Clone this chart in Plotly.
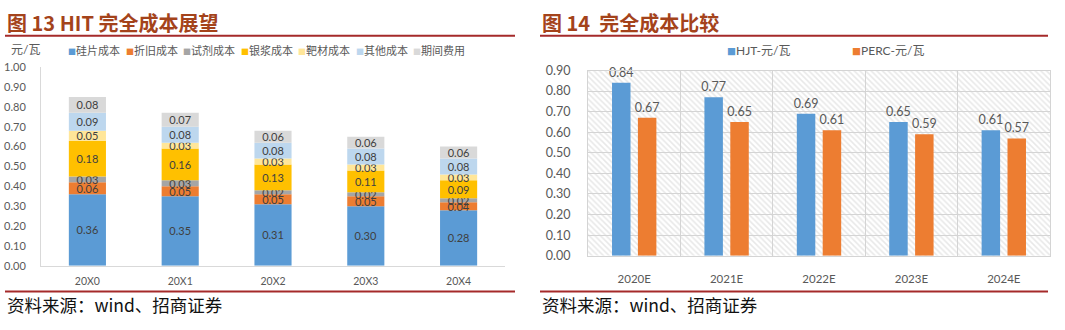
import numpy as np
import plotly.graph_objects as go

W, H = 1065, 330

# ---- Figure 13: HIT full cost outlook (stacked) ----
years_hit = ["20X0", "20X1", "20X2", "20X3", "20X4"]
cost_names = ["硅片成本", "折旧成本", "试剂成本", "银浆成本", "靶材成本", "其他成本", "期间费用"]
cost_colors = ["#5B9BD5", "#ED7D31", "#A5A5A5", "#FFC000", "#FFE699", "#BDD7EE", "#D9D9D9"]
wafer = [0.36, 0.35, 0.31, 0.30, 0.28]
depreciation = [0.06, 0.05, 0.05, 0.05, 0.04]
chemicals = [0.03, 0.03, 0.02, 0.02, 0.02]
silver_paste = [0.18, 0.16, 0.13, 0.11, 0.09]
target = [0.05, 0.03, 0.03, 0.03, 0.03]
other = [0.09, 0.08, 0.08, 0.08, 0.08]
period_expense = [0.08, 0.07, 0.06, 0.06, 0.06]
hit_ticks = [0.0, 0.1, 0.2, 0.3, 0.4, 0.5, 0.6, 0.7, 0.8, 0.9, 1.0]

# ---- Figure 14: full cost comparison ----
years_cmp = ["2020E", "2021E", "2022E", "2023E", "2024E"]
hjt = [0.84, 0.77, 0.69, 0.65, 0.61]
perc = [0.67, 0.65, 0.61, 0.59, 0.57]
cmp_names = ["HJT-元/瓦", "PERC-元/瓦"]
cmp_colors = ["#5B9BD5", "#ED7D31"]
cmp_ticks = [0.0, 0.1, 0.2, 0.3, 0.4, 0.5, 0.6, 0.7, 0.8, 0.9]

LATIN = "Lato, 'Noto Sans CJK SC', sans-serif"
CJK = "'Noto Sans CJK SC', sans-serif"
TICK_GREY = "#595959"
GRID = "#D4D4D4"
RULE_RED = "#A52A2A"
TITLE_BROWN = "#A4431B"


def px(x):
    return x / W


def py(y):
    return 1 - y / H


fig = go.Figure()

# stacked segments of the HIT chart
stack = np.array([wafer, depreciation, chemicals, silver_paste, target, other, period_expense])
bases = np.vstack([np.zeros(len(years_hit)), np.cumsum(stack, axis=0)[:-1]])
for name, color, vals, base in zip(cost_names, cost_colors, stack, bases):
    fig.add_trace(go.Bar(
        x=years_hit, y=vals, base=base, name=name,
        marker=dict(color=color, line=dict(width=0)),
        width=0.4, offset=-0.2,
        text=[f"{v:.2f}" for v in vals], texttemplate="%{text}",
        textposition="inside", insidetextanchor="middle", textangle=0,
        constraintext="none",
        textfont=dict(family=LATIN, size=11, color="#404040"),
        xaxis="x", yaxis="y", showlegend=False, hoverinfo="skip",
    ))

# hatched plot-area background of the comparison chart
fig.add_trace(go.Bar(
    x=[0.5], y=[1], width=[1],
    marker=dict(color="white", line=dict(width=0),
                pattern=dict(shape="\\", fgcolor="#D2D2D2", bgcolor="white",
                             size=4, solidity=0.4)),
    xaxis="x2", yaxis="y2", showlegend=False, hoverinfo="skip",
))

# comparison bars
for name, color, vals, off in zip(cmp_names, cmp_colors, [hjt, perc], [-0.24, 0.04]):
    fig.add_trace(go.Bar(
        x=years_cmp, y=vals, name=name,
        marker=dict(color=color, line=dict(width=0)),
        width=0.2, offset=off,
        text=[f"{v:.2f}" for v in vals], texttemplate="%{text}",
        textposition="outside", constraintext="none", cliponaxis=False,
        textfont=dict(family=LATIN, size=12.5, color=TICK_GREY),
        xaxis="x3", yaxis="y3", showlegend=False, hoverinfo="skip",
    ))

left_x = [px(41), px(505)]
left_y = [py(270), py(62)]
right_x = [px(588), px(1050)]
right_y = [py(259.5), py(65.5)]

fig.update_layout(
    width=W, height=H, autosize=False,
    margin=dict(l=0, r=0, t=0, b=0),
    paper_bgcolor="white", plot_bgcolor="rgba(0,0,0,0)",
    barmode="group",
    xaxis=dict(domain=left_x, type="category", showline=True, linecolor="#D9D9D9",
               linewidth=1, ticks="", showgrid=False,
               tickfont=dict(family=LATIN, size=10.5, color=TICK_GREY),
               ticklabelstandoff=6),
    yaxis=dict(domain=left_y, range=[0, 1.0], tickvals=hit_ticks,
               tickformat=".2f", showline=True, linecolor="#D9D9D9", linewidth=1,
               showgrid=False, zeroline=False, ticks="",
               tickfont=dict(family=LATIN, size=11, color=TICK_GREY),
               ticklabelstandoff=12),
    xaxis2=dict(domain=right_x, range=[0, 1], visible=False, fixedrange=True,
                anchor="y2"),
    yaxis2=dict(domain=right_y, range=[0, 1], visible=False, fixedrange=True,
                anchor="x2"),
    xaxis3=dict(domain=right_x, type="category", anchor="y3",
                showline=True, mirror=True, linecolor=GRID, linewidth=1,
                showgrid=True, gridcolor=GRID, gridwidth=1,
                tickson="boundaries", ticks="",
                tickfont=dict(family=LATIN, size=11.5, color=TICK_GREY),
                ticklabelstandoff=12),
    yaxis3=dict(domain=right_y, anchor="x3", range=[0, 0.9], tickvals=cmp_ticks,
                tickformat=".2f", showline=True, mirror=True, linecolor=GRID,
                showgrid=True, gridcolor=GRID, gridwidth=1, zeroline=False,
                ticks="",
                tickfont=dict(family=LATIN, size=12.5, color=TICK_GREY),
                ticklabelstandoff=14),
)

annotations = []
shapes = []

# titles, source lines and rules
for x0, x1, title in [(5, 515, "图 13 HIT 完全成本展望"), (540, 1048, "图 14  完全成本比较")]:
    annotations.append(dict(
        x=px(x0), y=py(15), xref="paper", yref="paper", xanchor="left", yanchor="middle",
        text=f"<b>{title}</b>", showarrow=False,
        font=dict(family=CJK, size=20, color=TITLE_BROWN)))
    annotations.append(dict(
        x=px(x0), y=py(311), xref="paper", yref="paper", xanchor="left", yanchor="middle",
        text="资料来源：wind、招商证券", showarrow=False,
        font=dict(family=CJK, size=17.5, color="#111111")))
    for yy in (29, 297):
        shapes.append(dict(type="line", xref="paper", yref="paper",
                           x0=px(x0), x1=px(x1), y0=py(yy), y1=py(yy),
                           line=dict(color=RULE_RED, width=2)))

# unit label of the stacked chart
annotations.append(dict(
    x=px(9), y=py(43), xref="paper", yref="paper", xanchor="left", yanchor="middle",
    text="元/瓦", showarrow=False, font=dict(family=LATIN, size=12, color=TICK_GREY)))


# legend rows
def legend_row(names, colors, x_start, step, size):
    for i, (n, c) in enumerate(zip(names, colors)):
        annotations.append(dict(
            x=px(x_start + i * step), y=py(45), xref="paper", yref="paper",
            xanchor="left", yanchor="middle", showarrow=False,
            text=f"<span style='color:{c};font-size:{size - 3}px'>■</span>{n}",
            font=dict(family=LATIN, size=size, color=TICK_GREY)))


legend_row(cost_names, cost_colors, 66, 57.5, 11)
legend_row(cmp_names, cmp_colors, 725, 125, 12)

fig.update_layout(annotations=annotations, shapes=shapes)

fig.write_html("out.html")
